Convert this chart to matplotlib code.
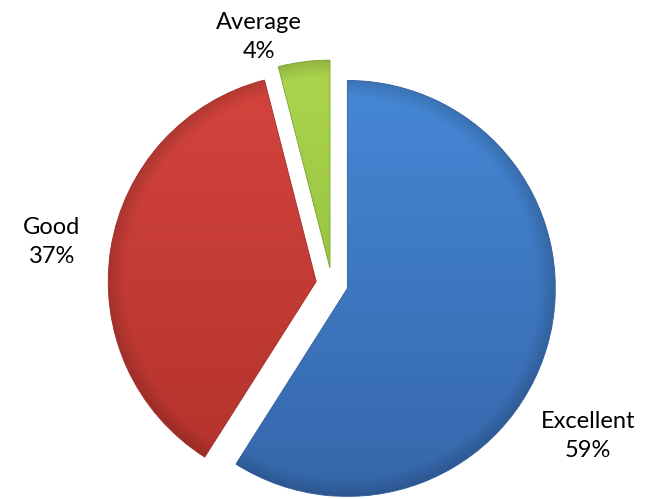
import matplotlib
matplotlib.use('Agg')
import matplotlib.pyplot as plt
import matplotlib.colors as mcolors
import numpy as np

labels = ['Excellent', 'Good', 'Average']
shares = [59, 37, 4]

# light (top) and dark (bottom) shade of each slice
top_colors = ['#4688d6', '#d4443d', '#acd64e']
bottom_colors = ['#3566aa', '#b3322d', '#88b335']

W, H = 658, 499
fig = plt.figure(figsize=(W / 100, H / 100), dpi=100)
ax = fig.add_axes([0, 0, 1, 1])

center = (332, H - 284)
radius = 208
gap = 16

wedges, _ = ax.pie(shares, startangle=90, counterclock=False, radius=radius,
                   center=center, explode=[gap] * len(shares), frame=False)

# vertical gradient with a slightly darker rim, clipped to each wedge
n = 300
yy, xx = np.mgrid[1:-1:n * 1j, -1:1:n * 1j]
rr = np.sqrt(xx ** 2 + yy ** 2)
for w, c_top, c_bot in zip(wedges, top_colors, bottom_colors):
    ct = np.array(mcolors.to_rgb(c_top))
    cb = np.array(mcolors.to_rgb(c_bot))
    t = ((1 - yy) / 2)[..., None]
    img = ct * (1 - t) + cb * t
    rim = np.clip((rr - 0.92) / 0.08, 0, 1)[..., None]
    img = img * (1 - 0.15 * rim)
    cx, cy = w.center
    im = ax.imshow(np.clip(img, 0, 1), extent=[cx - radius, cx + radius, cy - radius, cy + radius],
                   origin='upper', interpolation='bilinear', zorder=1)
    im.set_clip_path(w)
    w.set_facecolor('none')
    w.set_edgecolor(tuple(cb * 0.9))
    w.set_linewidth(0.6)
    w.set_zorder(2)

ax.set_xlim(0, W)
ax.set_ylim(0, H)
ax.set_aspect('equal')
ax.axis('off')

# data labels
label_xy = [(588, H - 436), (52, H - 242), (259, H - 37)]
for (x, y), name, val in zip(label_xy, labels, shares):
    ax.text(x, y, '{}\n{}%'.format(name, val), ha='center', va='center',
            fontsize=17, family='Lato', linespacing=1.45, color='black')

fig.savefig('out.png', dpi=100)
